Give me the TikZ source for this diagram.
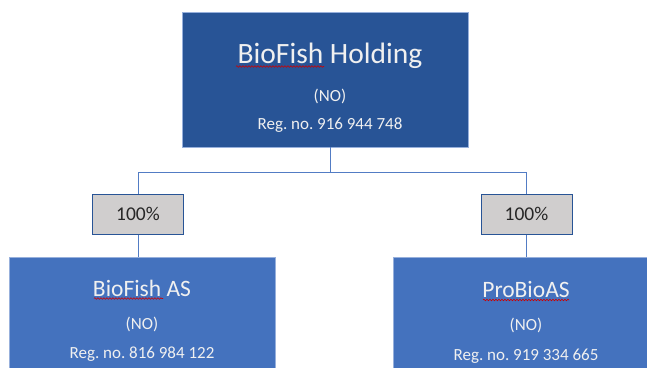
\documentclass[tikz,border=0pt]{standalone}
\usepackage{fontspec}
\setmainfont{Carlito}
\frenchspacing
\usetikzlibrary{decorations.pathmorphing}
\definecolor{darkblue}{RGB}{40,84,150}
\definecolor{midblue}{RGB}{68,114,190}
\definecolor{linkblue}{RGB}{82,124,196}
\definecolor{boxgray}{RGB}{208,206,206}
\definecolor{lighttext}{RGB}{240,240,240}
\tikzset{
  company/.style={draw=linkblue!60!white, line width=0.8pt, inner sep=0pt},
  share/.style={draw=darkblue, fill=boxgray, line width=1pt, minimum width=91pt,
    minimum height=40pt, inner sep=0pt, text=black!85, font=\fontsize{19.5}{22}\selectfont},
  cotitle/.style={anchor=base, inner sep=0pt, text=lighttext},
  codetail/.style={anchor=base, inner sep=0pt, text=lighttext, font=\fontsize{17}{19}\selectfont},
  link/.style={draw=linkblue, line width=1pt},
  spell/.style={draw=red!80!black, line width=0.6pt, decorate,
    decoration={snake, amplitude=0.8pt, segment length=3pt}}
}
\begin{document}
\begin{tikzpicture}[x=1pt,y=-1pt]
\useasboundingbox (0,0) rectangle (647,367);
\clip (0,0) rectangle (647,367);

% holding company
\node[company, fill=darkblue, minimum width=286pt, minimum height=135pt] (hold) at (325,79.5) {};
\node[cotitle, font=\fontsize{29.5}{32}\selectfont] (holdname) at (330,63) {BioFish Holding};
\node[codetail] (holdno) at (330,101) {(NO)};
\node[codetail] (holdreg) at (330,129) {Reg. no. 916 944 748};
\draw[spell] (236,66.5) -- (324,66.5);

% subsidiaries
\node[company, fill=midblue, minimum width=266pt, minimum height=140pt] (bioas) at (142,327) {};
\node[cotitle, font=\fontsize{23.5}{27}\selectfont] (bioasname) at (142,296) {BioFish AS};
\node[codetail] (bioasno) at (142,329) {(NO)};
\node[codetail] (bioasreg) at (142,358) {Reg. no. 816 984 122};
\draw[spell] (94,298.5) -- (163,298.5);

\node[company, fill=midblue, minimum width=270pt, minimum height=140pt] (probio) at (528,327) {};
\node[cotitle, font=\fontsize{23.5}{27}\selectfont] (probioname) at (526,297) {ProBioAS};
\node[codetail] (probiono) at (526,330) {(NO)};
\node[codetail] (probioreg) at (526,360) {Reg. no. 919 334 665};
\draw[spell] (483,300) -- (569,300);

% ownership shares
\node[share] (shareA) at (138,214) {100\%};
\node[share] (shareB) at (526.5,214) {100\%};

% connectors
\coordinate (bus) at (330,172);
\draw[link] (hold.south -| bus) -- (bus);
\draw[link] (bus) -| (shareA.north);
\draw[link] (bus) -| (shareB.north);
\draw[link] (shareA.south) -- (shareA.south |- bioas.north);
\draw[link] (shareB.south) -- (shareB.south |- probio.north);
\end{tikzpicture}
\end{document}
